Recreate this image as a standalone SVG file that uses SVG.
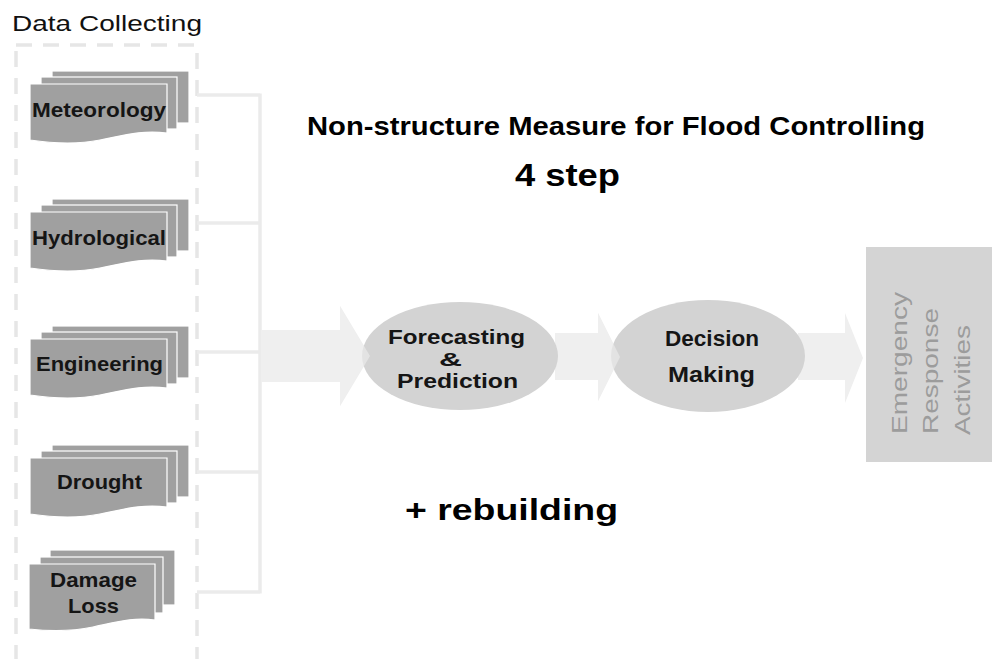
<svg xmlns="http://www.w3.org/2000/svg" xmlns:xlink="http://www.w3.org/1999/xlink" width="992" height="659" viewBox="0 0 992 659">
<style>
.lbl{font-family:"Liberation Sans",Arial,sans-serif;font-weight:bold;fill:#151515;}
.doc{fill:#a0a0a0;stroke:#ffffff;stroke-width:1.2;}
.conn{stroke:#ebebeb;stroke-width:3.5;fill:none;}
.arrow{fill:#efefef;}
.ell{fill:#d3d3d3;}
.big{font-family:"Liberation Sans",Arial,sans-serif;font-weight:bold;fill:#000;}
</style>
<defs>
<g id="mdoc">
<rect class="doc" x="22" y="0" width="137" height="52"/>
<rect class="doc" x="11" y="6" width="136" height="52"/>
<path class="doc" d="M0,13 H137 V62 C112,59 95,64 70,69 C45,74 20,72 0,69 Z"/>
</g>
<g id="mdoc2">
<rect class="doc" x="21" y="0" width="125" height="55"/>
<rect class="doc" x="11" y="7" width="123" height="56"/>
<path class="doc" d="M0,14 H126 V70 C104,67 88,72 64,77 C40,82 18,81 0,79 Z"/>
</g>
</defs>
<rect width="992" height="659" fill="#ffffff"/>

<text x="12" y="31" font-family="Liberation Sans,Arial,sans-serif" font-size="22" fill="#111" textLength="190" lengthAdjust="spacingAndGlyphs">Data Collecting</text>
<rect x="16" y="45" width="181" height="640" fill="none" stroke="#e6e6e6" stroke-width="3.5" stroke-dasharray="16 11"/>

<g id="connectors">
<path class="conn" d="M197,95 H260 M197,223 H260 M197,352 H260 M197,472 H260 M197,592 H260 M260,93.5 V593.5"/>
<path class="arrow" d="M261,330 H340 V306 L370,356 L340,406 V382 H261 Z"/>
<path class="arrow" d="M555,333 H598 V313 L620,357 L598,401 V380 H555 Z"/>
<path class="arrow" d="M798,333 H845 V313 L863,358 L845,403 V380 H798 Z"/>
</g>

<g id="n-meteorology">
<use xlink:href="#mdoc" x="30" y="71"/>
<text class="lbl" x="32" y="117" font-size="21" textLength="134" lengthAdjust="spacingAndGlyphs">Meteorology</text>
</g>
<g id="n-hydrological">
<use xlink:href="#mdoc" x="30" y="199"/>
<text class="lbl" x="32" y="245" font-size="21" textLength="134" lengthAdjust="spacingAndGlyphs">Hydrological</text>
</g>
<g id="n-engineering">
<use xlink:href="#mdoc" x="30" y="326"/>
<text class="lbl" x="36" y="371" font-size="21" textLength="127" lengthAdjust="spacingAndGlyphs">Engineering</text>
</g>
<g id="n-drought">
<use xlink:href="#mdoc" x="30" y="445"/>
<text class="lbl" x="57" y="489" font-size="21" textLength="85" lengthAdjust="spacingAndGlyphs">Drought</text>
</g>
<g id="n-damage">
<use xlink:href="#mdoc2" x="29" y="550"/>
<text class="lbl" x="50" y="587" font-size="21" textLength="87" lengthAdjust="spacingAndGlyphs">Damage</text>
<text class="lbl" x="68" y="613" font-size="21" textLength="51" lengthAdjust="spacingAndGlyphs">Loss</text>
</g>

<g id="n-forecasting">
<ellipse class="ell" cx="460" cy="356" rx="98" ry="54"/>
<text class="lbl" x="388" y="344" font-size="20" textLength="137" lengthAdjust="spacingAndGlyphs">Forecasting</text>
<text class="lbl" x="439" y="366" font-size="18" textLength="23" lengthAdjust="spacingAndGlyphs">&amp;</text>
<text class="lbl" x="397" y="388" font-size="21" textLength="121" lengthAdjust="spacingAndGlyphs">Prediction</text>
</g>
<path class="arrow" d="M340,306 L370,356 L340,406 Z" opacity="0.6"/>

<g id="n-decision">
<ellipse class="ell" cx="708" cy="356" rx="97" ry="56"/>
<text class="lbl" x="665" y="346" font-size="22" textLength="94" lengthAdjust="spacingAndGlyphs">Decision</text>
<text class="lbl" x="668" y="382" font-size="22" textLength="87" lengthAdjust="spacingAndGlyphs">Making</text>
</g>
<path class="arrow" d="M598,313 L620,357 L598,401 Z" opacity="0.6"/>

<g id="n-emergency">
<rect x="866" y="247" width="130" height="215" fill="#d4d4d4"/>
<g font-family="Liberation Sans,Arial,sans-serif" font-size="22" fill="#9c9c9c">
<text transform="translate(907,434) rotate(-90)" textLength="142" lengthAdjust="spacingAndGlyphs">Emergency</text>
<text transform="translate(938,434) rotate(-90)" textLength="126" lengthAdjust="spacingAndGlyphs">Response</text>
<text transform="translate(970,435) rotate(-90)" textLength="110" lengthAdjust="spacingAndGlyphs">Activities</text>
</g>
</g>

<text class="big" x="307" y="135" font-size="26" textLength="618" lengthAdjust="spacingAndGlyphs">Non-structure Measure for Flood Controlling</text>
<text class="big" x="515" y="186" font-size="32" textLength="105" lengthAdjust="spacingAndGlyphs">4 step</text>
<text class="big" x="405" y="520" font-size="29" textLength="213" lengthAdjust="spacingAndGlyphs">+ rebuilding</text>
</svg>
